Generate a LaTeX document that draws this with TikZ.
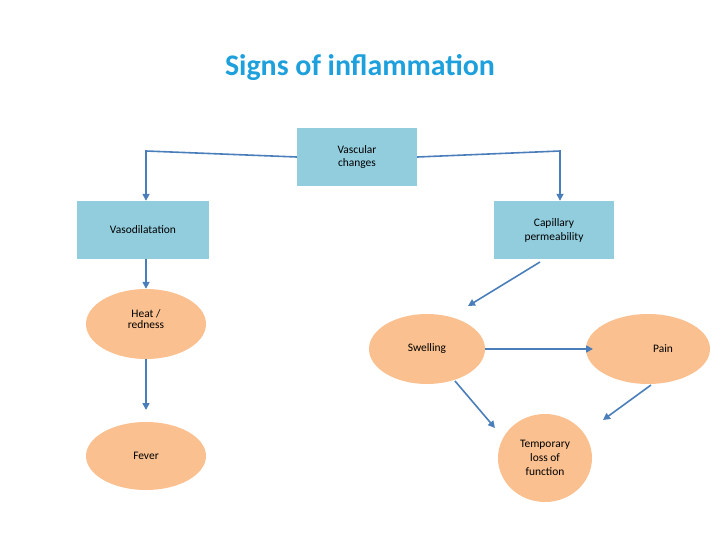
\documentclass[tikz,border=0pt]{standalone}
\usepackage{fontspec}
\setmainfont{Carlito}
\usetikzlibrary{shapes.geometric,arrows.meta}
\definecolor{ttl}{RGB}{30,160,220}
\definecolor{bx}{RGB}{146,205,222}
\definecolor{pe}{RGB}{250,192,143}
\definecolor{ar}{RGB}{74,126,187}
\begin{document}
\begin{tikzpicture}[x=1bp,y=-1bp,
 box/.style={fill=bx,draw=none,minimum width=#1,minimum height=58bp,align=center,font=\fontsize{11.5}{14}\selectfont,inner sep=0pt},
 el/.style={ellipse,fill=pe,draw=none,align=center,font=\fontsize{11.5}{14}\selectfont,inner sep=0pt},
 arr/.style={draw=ar,line width=1.6pt,-{Triangle[length=7bp,width=7bp]}}]
\useasboundingbox (0,0) rectangle (720,540);
\node[text=ttl,font=\fontsize{30}{34}\bfseries\selectfont] (t) at (360,68) {Signs of inflammation};
\node[box=120bp] (vc) at (357,157) {Vascular\\changes};
\node[box=132bp] (vd) at (143,230) {Vasodilatation};
\node[box=120bp] (cp) at (554,230) {Capillary\\permeability};
\node[el,minimum width=120bp,minimum height=70bp] (hr) at (146,324) {\raisebox{10bp}{\shortstack{Heat /\\redness}}};
\node[el,minimum width=120bp,minimum height=68bp] (fv) at (146,456) {Fever};
\node[el,minimum width=116bp,minimum height=70bp] (sw) at (427,349) {Swelling};
\node[el,minimum width=124bp,minimum height=70bp] (pn) at (648,349) {\hspace{30bp}Pain};
\node[el,minimum width=94bp,minimum height=88bp] (tl) at (545,458) {Temporary\\loss of\\function};
\draw[arr] (vc.west) -- (146,151) -- (vd.north-|146,0);
\draw[arr] (vc.east) -- (560,151) -- (cp.north-|560,0);
\draw[arr] (vd.south-|146,0) -- (hr.north);
\draw[arr] (146,359) -- (146,410);
\draw[arr] (540,262) -- (468,306);
\draw[arr] (sw.east) -- (593,349);
\draw[arr] (455,381) -- (495,428);
\draw[arr] (651,385) -- (603,420);
\end{tikzpicture}
\end{document}
